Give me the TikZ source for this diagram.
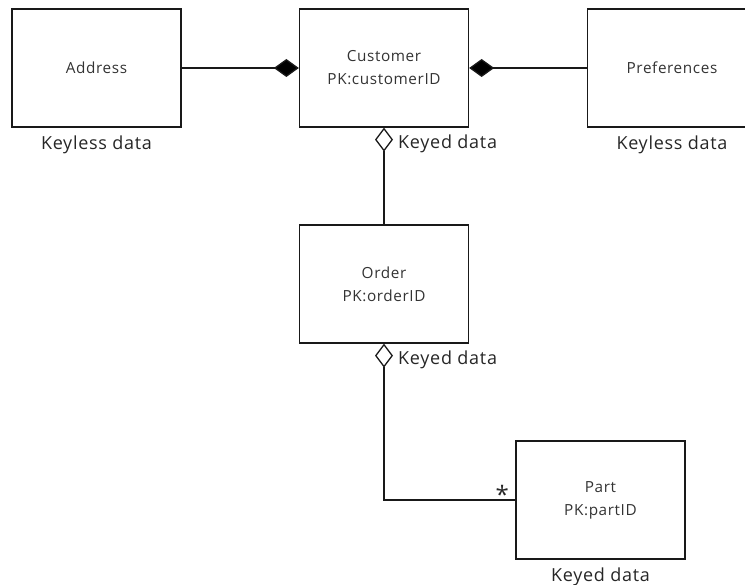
\documentclass[tikz,border=0pt]{standalone}
\usepackage{fontspec}
\setmainfont{Open Sans}[LetterSpace=4]
\usetikzlibrary{arrows.meta,positioning,calc}
\begin{document}
\begin{tikzpicture}[x=1pt,y=-1pt,
  ent/.style={draw=black!90, line width=1.3pt, minimum width=169pt, minimum height=118pt,
     inner sep=0pt, align=center, text=black!80, font=\fontsize{15.3}{23}\selectfont},
  lbl/.style={inner sep=0pt, text=black!85, font=\fontsize{18}{20}\selectfont},
  conn/.style={draw=black!90, line width=1.3pt},
  fdia/.style={-{Diamond[length=25pt,width=18pt,fill=black]}},
  odia/.style={-{Diamond[open,length=24pt,width=18pt]}}]
\useasboundingbox (0,0) rectangle (745,585);
\clip (0,0) rectangle (745,585);
\node[ent] (addr) at (96.5,68) {Address};
\node[ent] (cust) at (384,68) {Customer\\PK:customerID};
\node[ent] (pref) at (672,68) {Preferences};
\node[ent] (order) at (384,284) {Order\\PK:orderID};
\node[ent] (part) at (600.5,500) {Part\\PK:partID};
\draw[conn,fdia] (addr) -- (cust);
\draw[conn,fdia] (pref) -- (cust);
\draw[conn,odia] (order) -- (cust);
\draw[conn,odia] (part.west) -| (order.south);
\node[lbl, below=8pt of addr] (kl1) {Keyless data};
\node[lbl, below=8pt of pref] (kl2) {Keyless data};
\node[lbl, below=8pt of part] (kd3) {Keyed data};
\node[lbl, anchor=base west] (kd1) at ($(cust.south)+(14,21)$) {Keyed data};
\node[lbl, anchor=base west] (kd2) at ($(order.south)+(14,21)$) {Keyed data};
\node[lbl, font=\fontsize{24}{24}\selectfont] (star) at ($(part.west)+(-13,-5.5)$) {*};
\end{tikzpicture}
\end{document}
